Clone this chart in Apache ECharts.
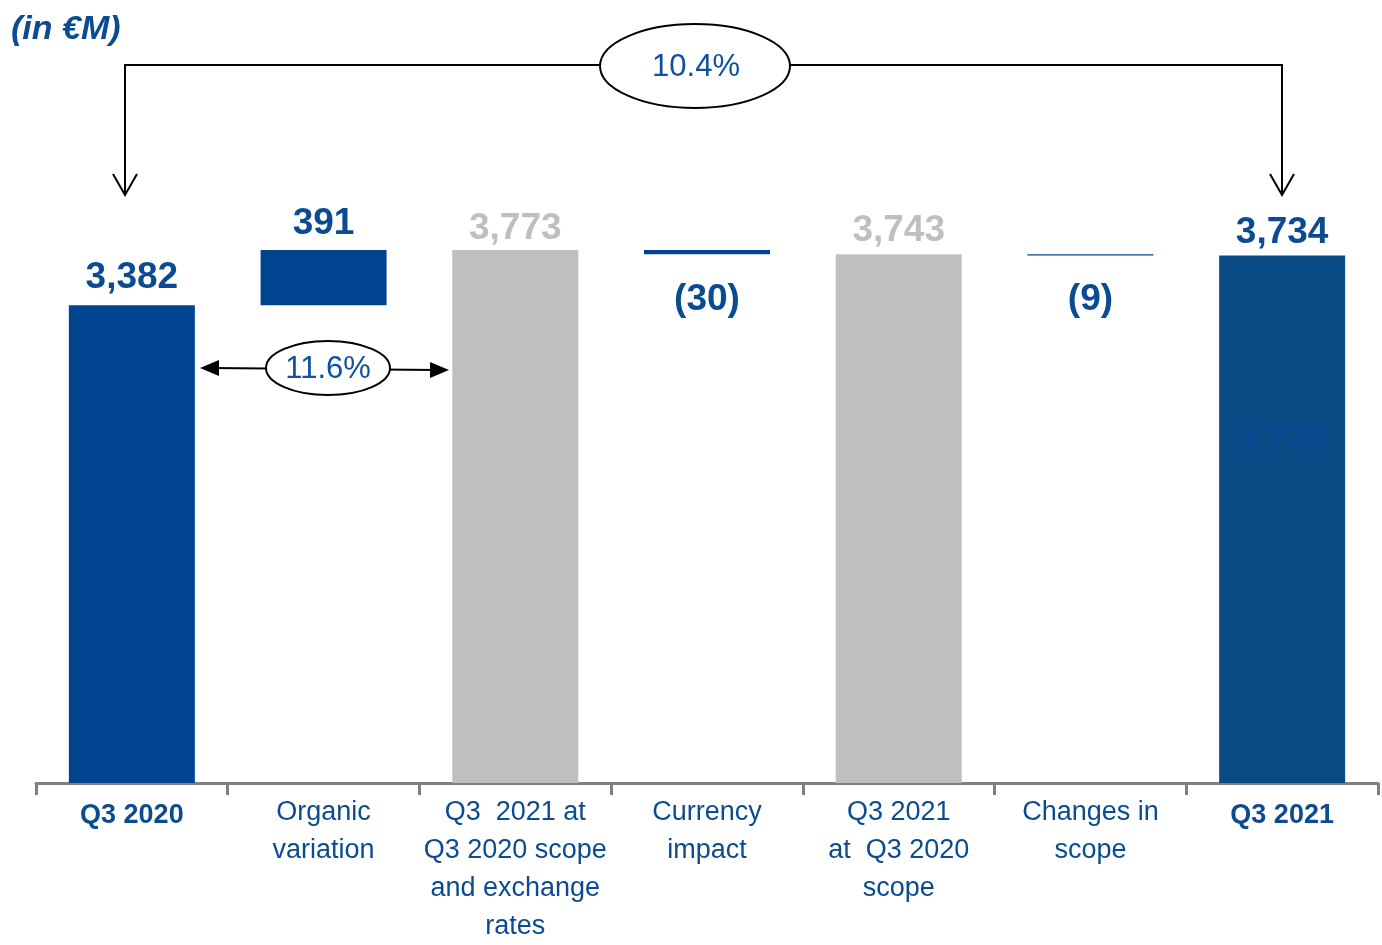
<!DOCTYPE html>
<html>
<head>
<meta charset="utf-8">
<script src="https://cdn.jsdelivr.net/npm/echarts@6/dist/echarts.min.js"></script>
<style>
  html, body { margin: 0; padding: 0; background: #fff; }
  #chart { width: 1382px; height: 945px; }
</style>
</head>
<body>
<div id="chart"></div>
<script>
// Bridge from Q3 2020 to Q3 2021 revenue (in €M)
const categories = [
  'Q3 2020',
  'Organic\nvariation',
  'Q3  2021 at\nQ3 2020 scope\nand exchange\nrates',
  'Currency\nimpact',
  'Q3 2021\nat  Q3 2020\nscope',
  'Changes in\nscope',
  'Q3 2021'
];
// 'total' = full bar from zero, 'subtotal' = grey intermediate total, 'delta' = floating step
const kinds = ['total', 'delta', 'subtotal', 'delta', 'subtotal', 'delta', 'total'];
const values = [3382, 391, 3773, -30, 3743, -9, 3734];
const valueLabels = ['3,382', '391', '3,773', '(30)', '3,743', '(9)', '3,734'];
const growthTotal = '10.4%';
const growthOrganic = '11.6%';

const BLUE = '#00448F';
const BLUE_DARK = '#0A4A85';
const GREY = '#BFBFBF';
const TEXT_BLUE = '#0B4B91';
const FONT = 'Liberation Sans, Arial, sans-serif';
const NARROW = '"Liberation Sans Narrow", "Arial Narrow", "Liberation Sans", sans-serif';

// gap between each bar end and its value label
const labelGap = [9, 8, 3, 27, 5, 26, 4];

// Floating bases for the waterfall steps
const bases = [];
const heights = [];
let running = 0;
values.forEach((v, i) => {
  if (kinds[i] === 'delta') {
    const start = running;
    running += v;
    bases.push(Math.min(start, running));
    heights.push(Math.abs(v));
  } else {
    running = v;
    bases.push(0);
    heights.push(v);
  }
});

function barColor(i) {
  if (kinds[i] === 'subtotal') return GREY;
  if (i === values.length - 1) return BLUE_DARK;
  return BLUE;
}

const stepData = heights.map((h, i) => {
  const negative = values[i] < 0;
  return {
    value: h,
    itemStyle: { color: barColor(i) },
    label: {
      show: true,
      position: negative ? 'bottom' : 'top',
      distance: labelGap[i],
      formatter: valueLabels[i],
      color: kinds[i] === 'subtotal' ? GREY : TEXT_BLUE,
      fontSize: 37,
      fontWeight: 'bold',
      fontFamily: FONT
    }
  };
});

// Faint value printed inside the final bar
const innerData = values.map((v, i) => {
  if (i !== values.length - 1) return { value: 0, label: { show: false } };
  return {
    value: v,
    label: {
      show: true,
      position: 'insideTop',
      distance: 166,
      formatter: valueLabels[i],
      color: '#0C4794',
      fontSize: 37,
      fontWeight: 'bold',
      fontFamily: FONT
    }
  };
});

const chart = echarts.init(document.getElementById('chart'));
chart.setOption({
  animation: false,
  backgroundColor: '#fff',
  grid: { left: 36, right: 4, top: 218, bottom: 162, containLabel: false },
  xAxis: {
    type: 'category',
    data: categories,
    axisLine: { lineStyle: { color: '#808080', width: 3 } },
    axisTick: { show: true, length: 12, lineStyle: { color: '#808080', width: 3 } },
    axisLabel: {
      interval: 0,
      margin: 11,
      formatter: (val, idx) => kinds[idx] === 'total' ? '{b|' + val + '}' : '{n|' + val.split('\n').join('}\n{n|') + '}',
      rich: {
        n: { fontSize: 27, lineHeight: 38, color: TEXT_BLUE, fontFamily: NARROW },
        b: { fontSize: 27, lineHeight: 44, color: TEXT_BLUE, fontFamily: NARROW, fontWeight: 'bold' }
      }
    }
  },
  yAxis: {
    type: 'value', min: 0, max: 4000, show: false,
    splitLine: { show: false }
  },
  series: [
    {
      name: 'base', type: 'bar', stack: 'w', barWidth: 126,
      itemStyle: { color: 'transparent' },
      data: bases, silent: true
    },
    {
      name: 'step', type: 'bar', stack: 'w', barWidth: 126,
      data: stepData
    },
    {
      name: 'inner', type: 'bar', barWidth: 126, barGap: '-100%',
      itemStyle: { color: 'transparent' },
      data: innerData, silent: true, z: 5
    }
  ],
  graphic: [
    { type: 'text', left: 11, top: 13,
      style: { text: '(in €M)', fill: TEXT_BLUE, font: 'italic bold 34px ' + FONT } },
    // overall growth bracket
    { type: 'polyline', shape: { points: [[125, 195], [125, 65], [1282, 65], [1282, 195]] },
      style: { stroke: '#000', lineWidth: 2, fill: null } },
    { type: 'polyline', shape: { points: [[113, 174], [125, 195], [137, 174]] },
      style: { stroke: '#000', lineWidth: 2, fill: null } },
    { type: 'polyline', shape: { points: [[1270, 174], [1282, 195], [1294, 174]] },
      style: { stroke: '#000', lineWidth: 2, fill: null } },
    { type: 'ellipse', shape: { cx: 695, cy: 66, rx: 95, ry: 42 },
      style: { fill: '#fff', stroke: '#000', lineWidth: 2 } },
    { type: 'text', x: 696, y: 67,
      style: { text: growthTotal, fill: '#1050A0', font: '31px ' + FONT, align: 'center', verticalAlign: 'middle' } },
    // organic growth double arrow
    { type: 'line', shape: { x1: 212, y1: 368, x2: 436, y2: 370 },
      style: { stroke: '#000', lineWidth: 2 } },
    { type: 'polygon', shape: { points: [[200, 368], [219, 360], [219, 376]] },
      style: { fill: '#000' } },
    { type: 'polygon', shape: { points: [[449, 370], [430, 362], [430, 378]] },
      style: { fill: '#000' } },
    { type: 'ellipse', shape: { cx: 328, cy: 368, rx: 62, ry: 27 },
      style: { fill: '#fff', stroke: '#000', lineWidth: 2 } },
    { type: 'text', x: 328, y: 369,
      style: { text: growthOrganic, fill: '#1050A0', font: '31px ' + FONT, align: 'center', verticalAlign: 'middle' } }
  ]
});
</script>
</body>
</html>
